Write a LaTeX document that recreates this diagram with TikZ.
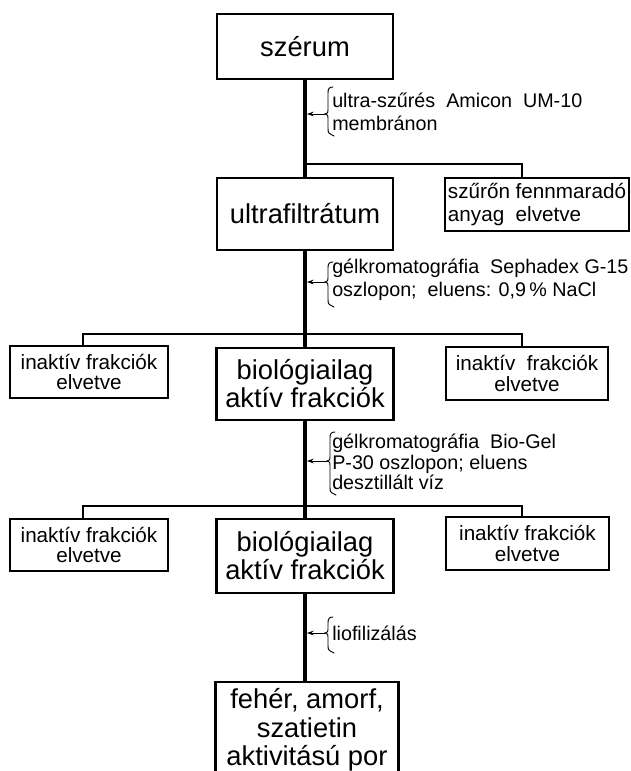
\documentclass[tikz,border=0pt]{standalone}
\usepackage{fontspec}
\setmainfont{Liberation Sans}
\usetikzlibrary{arrows.meta}
\newcommand\notebrace[4]{%
  \draw[brc] (#1+5,#2) .. controls (#1+1,#2) and (#1,#2+2) .. (#1,#2+6)
    -- (#1,#3-4) .. controls (#1,#3-1) .. (#1-3,#3)
    .. controls (#1,#3+1) .. (#1,#3+4) -- (#1,#4-8)
    .. controls (#1,#4-3) .. (#1+6,#4);}
\begin{document}
\begin{tikzpicture}[x=0.75pt,y=-0.75pt,
  mainbox/.style={draw,line width=2.2pt,inner sep=0pt,align=center,font=\fontsize{20.5}{21}\selectfont},
  sidebox/.style={draw,line width=1.3pt,inner sep=0pt,align=center,font=\fontsize{15.5}{15.5}\selectfont},
  trunk/.style={line width=3.2pt},
  branch/.style={line width=1.1pt},
  note/.style={anchor=west,inner sep=0pt,align=left,font=\fontsize{14.8}{17.5}\selectfont},
  brc/.style={line width=0.7pt,line cap=round},
  pointer/.style={line width=0.7pt,-{Stealth[length=5pt,width=3.5pt]}}]
\useasboundingbox (0,0) rectangle (631,771);
\clip (0,0) rectangle (631,771);
\fill[white] (0,0) rectangle (631,771);

% main column
\node[mainbox,minimum width=132pt,minimum height=48.75pt] (serum) at (305,46.5) {szérum};
\node[mainbox,minimum width=132pt,minimum height=54pt] (ultra) at (305,214) {ultrafiltrátum};
\node[mainbox,minimum width=132.75pt,minimum height=54pt] (bio1) at (305,384) {biológiailag\\aktív frakciók};
\node[mainbox,minimum width=132.75pt,minimum height=55.5pt] (bio2) at (305,556) {biológiailag\\aktív frakciók};
\node[mainbox,minimum width=137.25pt,minimum height=72pt,font=\fontsize{20.5}{21.5}\selectfont] (final) at (307,730) {fehér, amorf,\\szatietin\\aktivitású por};

% side boxes
\node[sidebox,align=left,minimum width=138pt,minimum height=39.75pt,font=\fontsize{15.5}{17}\selectfont] (waste) at (537,204.5) {szűrőn fennmaradó\\anyag\ \ elvetve};
\node[sidebox,minimum width=118.5pt,minimum height=39pt] (L1) at (89,372) {inaktív frakciók\\elvetve};
\node[sidebox,minimum width=121.5pt,minimum height=39.75pt] (R1) at (527,373.5) {inaktív\ \ frakciók\\elvetve};
\node[sidebox,minimum width=118.5pt,minimum height=39pt] (L2) at (89,545) {inaktív frakciók\\elvetve};
\node[sidebox,minimum width=122.25pt,minimum height=39.75pt] (R2) at (527.5,543.5) {inaktív frakciók\\elvetve};

% trunk
\draw[trunk] (serum.south) -- (serum.south |- ultra.north);
\draw[trunk] (ultra.south) -- (ultra.south |- bio1.north);
\draw[trunk] (bio1.south) -- (bio1.south |- bio2.north);
\draw[trunk] (bio2.south) -- (bio2.south |- final.north);

% branches
\coordinate (j1) at (305,164);
\coordinate (j1r) at (522,164);
\draw[branch] (j1) -- (j1r) -- (j1r |- waste.north);
\coordinate (j2l) at (83,334);
\coordinate (j2r) at (522,334);
\draw[branch] (j2l |- L1.north) -- (j2l) -- (j2r) -- (j2r |- R1.north);
\coordinate (j3l) at (83,506);
\coordinate (j3r) at (522,506);
\draw[branch] (j3l |- L2.north) -- (j3l) -- (j3r) -- (j3r |- R2.north);

% annotation 1
\notebrace{328}{87}{114}{136}
\coordinate (c1) at (325,114);
\coordinate (t1) at (307,114);
\draw[pointer] (c1) -- (t1);
\node[note] (n1) at (332,111.5) {ultra-szűrés\ \ Amicon\ \ UM-10\\membránon};

% annotation 2
\notebrace{328}{262}{282}{307}
\coordinate (c2) at (325,282);
\coordinate (t2) at (307,282);
\draw[pointer] (c2) -- (t2);
\node[note] (n2) at (332,280) {gélkromatográfia\ \ Sephadex G-15\\oszlopon;\ \ eluens: 0,9\,\%\ NaCl};

% annotation 3
\notebrace{330}{432}{461}{495}
\coordinate (c3) at (327,461);
\coordinate (t3) at (307,461);
\draw[pointer] (c3) -- (t3);
\node[note,font=\fontsize{14.8}{15.2}\selectfont] (n3) at (332,462) {gélkromatográfia\ \ Bio-Gel\\P-30 oszlopon; eluens\\desztillált víz};

% annotation 4
\notebrace{328}{617}{633}{653}
\coordinate (c4) at (325,633);
\coordinate (t4) at (307,633);
\draw[pointer] (c4) -- (t4);
\node[note] (n4) at (332,633) {liofilizálás};
\end{tikzpicture}
\end{document}
